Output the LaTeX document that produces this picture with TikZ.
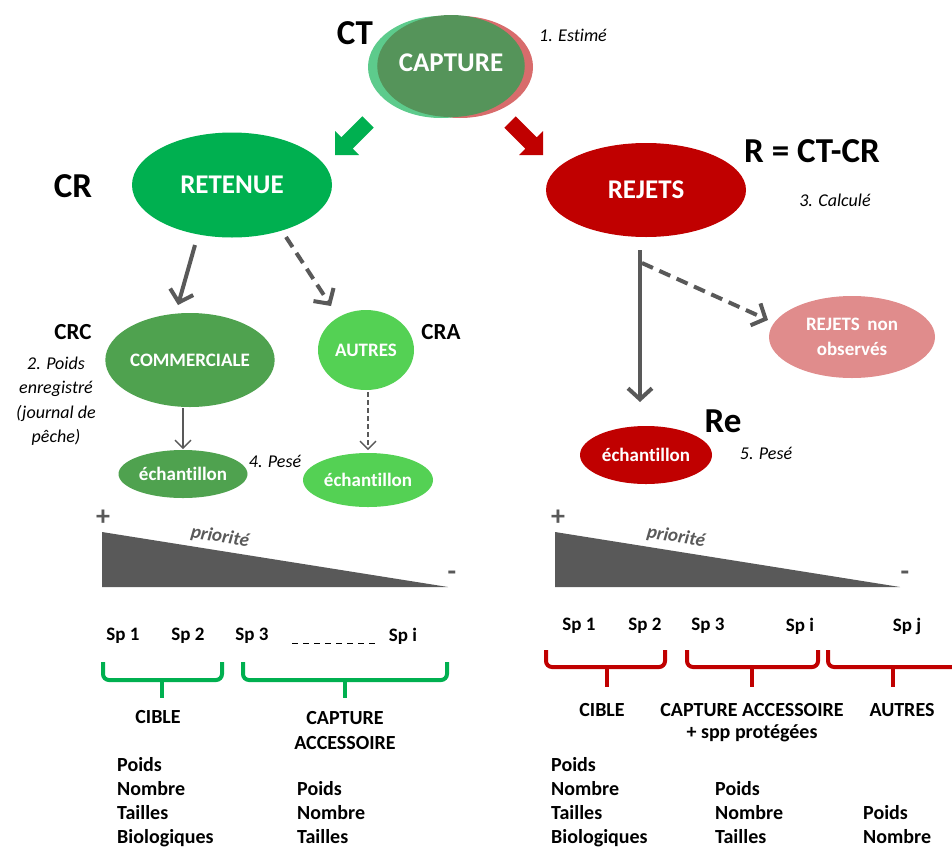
\documentclass[tikz,border=0pt]{standalone}
\usepackage{fontspec}
\setmainfont{Carlito}[Ligatures=NoCommon]
\usetikzlibrary{arrows.meta,shapes.geometric}
\definecolor{capg}{HTML}{55945A}
\definecolor{capl}{HTML}{5DCB8C}
\definecolor{capr}{HTML}{D86C6C}
\definecolor{retg}{HTML}{00B050}
\definecolor{comg}{HTML}{4FA24F}
\definecolor{autg}{HTML}{54D154}
\definecolor{rejr}{HTML}{C00000}
\definecolor{rnor}{HTML}{E08C8C}
\definecolor{gry}{HTML}{595959}
\newcommand{\fsz}[1]{\fontsize{#1}{#1}\selectfont}
\newcommand{\fszb}[2]{\fontsize{#1}{#2}\selectfont}
\tikzset{
  ell/.style={ellipse, inner sep=0pt, text=white, font=\bfseries\fsz{19}},
  big/.style={font=\bfseries\fsz{35}, inner sep=0pt},
  mid/.style={font=\bfseries\fsz{23}, inner sep=0pt},
  note/.style={font=\itshape\fsz{18}, inner sep=0pt},
  lbl/.style={font=\bfseries\fsz{20}, inner sep=0pt},
  sp/.style={font=\bfseries\fsz{19}, inner sep=0pt},
  lst/.style={font=\bfseries\fsz{20}, inner sep=0pt, anchor=base west},
  pm/.style={font=\bfseries\fsz{28}, text=gry, inner sep=0pt},
  prio/.style={font=\bfseries\itshape\fsz{19}, text=gry, inner sep=0pt, rotate=-9},
  arr/.style={draw=gry, line width=4pt, -{Straight Barb[length=11pt,width=24pt,line width=4pt]}},
  darr/.style={arr, dash pattern=on 12pt off 7pt},
  tarr/.style={draw=gry, line width=1.3pt, -{Straight Barb[length=8pt,width=16pt,line width=1.3pt]}},
  tdarr/.style={tarr, dash pattern=on 5pt off 3pt},
  gbrace/.style={draw=retg, line width=4pt, rounded corners=6pt},
  rbrace/.style={draw=rejr, line width=4pt, rounded corners=6pt},
  tri/.style={fill=gry}
}
\begin{document}
\begin{tikzpicture}[x=1pt,y=-1pt]
\useasboundingbox (0,0) rectangle (952,849);
\clip (0,0) rectangle (952,849);
% CAPTURE
\node[ell, fill=capr, minimum width=146pt, minimum height=102pt] (capR) at (460,67) {};
\node[ell, fill=capl, minimum width=146pt, minimum height=102pt] (capL) at (441,67) {};
\node[ell, fill=capg, minimum width=146pt, minimum height=102pt, font=\bfseries\fsz{27}, text depth=6pt] (cap) at (451,66) {CAPTURE};
\node[big] (ct) at (355,33) {CT};
\node[note] (n1) at (573,35) {1. Estimé};
% block arrows
\fill[retg] (335,155) -- (335,131) -- (341.3,137.3) -- (362.3,116.3) -- (373.7,127.7) -- (352.7,148.7) -- (359,155) -- cycle;
\fill[rejr] (543,155) -- (543,131) -- (536.7,137.3) -- (515.7,116.3) -- (504.3,127.7) -- (525.3,148.7) -- (519,155) -- cycle;
% RETENUE
\node[ell, fill=retg, minimum width=200pt, minimum height=105pt, font=\bfseries\fsz{27}] (ret) at (232,185) {RETENUE};
\node[big] (cr) at (73,186) {CR};
% REJETS
\node[ell, fill=rejr, minimum width=200pt, minimum height=94pt, font=\bfseries\fsz{27}] (rej) at (646,190) {REJETS};
\node[big] (rf) at (812,151) {R = CT-CR};
\node[note] (n3) at (835,200) {3. Calculé};
% second level left
\node[ell, fill=comg, minimum width=144pt, minimum height=94pt] (com) at (190,360) {COMMERCIALE};
\node[ell, fill=autg, minimum width=96pt, minimum height=80pt] (aut) at (366,350) {AUTRES};
\node[mid] (crc) at (73,332) {CRC};
\node[mid] (cra) at (441,332) {CRA};
\node[inner sep=0pt, align=center, font=\itshape\fszb{18}{24.5}] (n2) at (56,401) {2. Poids\\enregistré\\(journal de\\pêche)};
\node[ell, fill=comg, minimum width=129pt, minimum height=48pt] (eL) at (183,474) {échantillon};
\node[ell, fill=autg, minimum width=130pt, minimum height=54pt] (eR) at (368,480) {échantillon};
\node[note] (n4) at (275,461) {4. Pesé};
% right second level
\node[ell, fill=rnor, minimum width=166pt, minimum height=82pt, align=center, font=\bfseries\fszb{19}{25}] (rno) at (852,337) {REJETS\hspace{0.4em}non\\observés};
\node[ell, fill=rejr, minimum width=132pt, minimum height=58pt] (eRe) at (646,455) {échantillon};
\node[big] (re) at (723,421) {Re};
\node[note] (n5) at (766,453) {5. Pesé};
% connectors
\draw[arr] ([shift={(-37,60)}]ret.center) -- ([shift={(-12,-55)}]com.center);
\draw[darr] ([shift={(54,52)}]ret.center) -- ([shift={(-35,-44)}]aut.center);
\draw[tarr] ([shift={(-7,48)}]com.center) -- ([shift={(0,-25)}]eL.center);
\draw[tdarr] ([shift={(2,42)}]aut.center) -- ([shift={(0,-30)}]eR.center);
\draw[arr] ([shift={(-6,60)}]rej.center) -- ([shift={(-6,-53)}]eRe.center);
\coordinate (br) at ([shift={(-4,73)}]rej.center);
\draw[darr] (br) -- ([shift={(-84,-17)}]rno.center);
% left priority
\fill[tri] (102,532) -- (448,587) -- (102,587) -- cycle;
\node[pm] (plL) at (103,518) {+};
\node[pm] (mnL) at (452,576) {-};
\node[prio] (prL) at (220,537) {priorité};
\node[sp] (s1L) at (123,636) {Sp 1};
\node[sp] (s2L) at (188,636) {Sp 2};
\node[sp] (s3L) at (252,636) {Sp 3};
\node[sp] (siL) at (403,636) {Sp i};
\draw[line width=1pt, dash pattern=on 6pt off 5pt] (292,643) -- (375,643);
\draw[gbrace] (103,662) -- (103,680) -- (222,680) -- (222,662);
\draw[gbrace] (162,680) -- (162,698);
\draw[gbrace] (243,662) -- (243,680) -- (447,680) -- (447,662);
\draw[gbrace] (345,680) -- (345,698);
\node[lbl] (cibL) at (158,717) {CIBLE};
\node[lbl, align=center, font=\bfseries\fszb{20}{25}] (caL) at (345,730) {CAPTURE\\ACCESSOIRE};
\node[lst] (a1) at (117,771) {Poids};
\node[lst] (a2) at (117,795) {Nombre};
\node[lst] (a3) at (117,819) {Tailles};
\node[lst] (a4) at (117,843) {Biologiques};
\node[lst] (b1) at (297,795) {Poids};
\node[lst] (b2) at (297,819) {Nombre};
\node[lst] (b3) at (297,843) {Tailles};
% right priority
\fill[tri] (555,532) -- (900,587) -- (555,587) -- cycle;
\node[pm] (plR) at (558,518) {+};
\node[pm] (mnR) at (905,576) {-};
\node[prio] (prR) at (676,537) {priorité};
\node[sp] (s1R) at (579,626) {Sp 1};
\node[sp] (s2R) at (645,626) {Sp 2};
\node[sp] (s3R) at (708,626) {Sp 3};
\node[sp] (siR) at (800,626) {Sp i};
\node[sp] (sjR) at (907,626) {Sp j};
\draw[rbrace] (546,650) -- (546,667) -- (665,667) -- (665,650);
\draw[rbrace] (607,667) -- (607,687);
\draw[rbrace] (687,650) -- (687,667) -- (818,667) -- (818,650);
\draw[rbrace] (752,667) -- (752,687);
\draw[rbrace] (828,650) -- (828,667) -- (958,667) -- (958,650);
\draw[rbrace] (893,667) -- (893,687);
\node[lbl] (cibR) at (602,710) {CIBLE};
\node[lbl] (caR) at (752,710) {CAPTURE ACCESSOIRE};
\node[lbl] (spp) at (752,733) {+ spp protégées};
\node[lbl] (autR) at (902,710) {AUTRES};
\node[lst] (c1) at (551,771) {Poids};
\node[lst] (c2) at (551,795) {Nombre};
\node[lst] (c3) at (551,819) {Tailles};
\node[lst] (c4) at (551,843) {Biologiques};
\node[lst] (d1) at (715,795) {Poids};
\node[lst] (d2) at (715,819) {Nombre};
\node[lst] (d3) at (715,843) {Tailles};
\node[lst] (e1) at (863,819) {Poids};
\node[lst] (e2) at (863,843) {Nombre};
\end{tikzpicture}
\end{document}
